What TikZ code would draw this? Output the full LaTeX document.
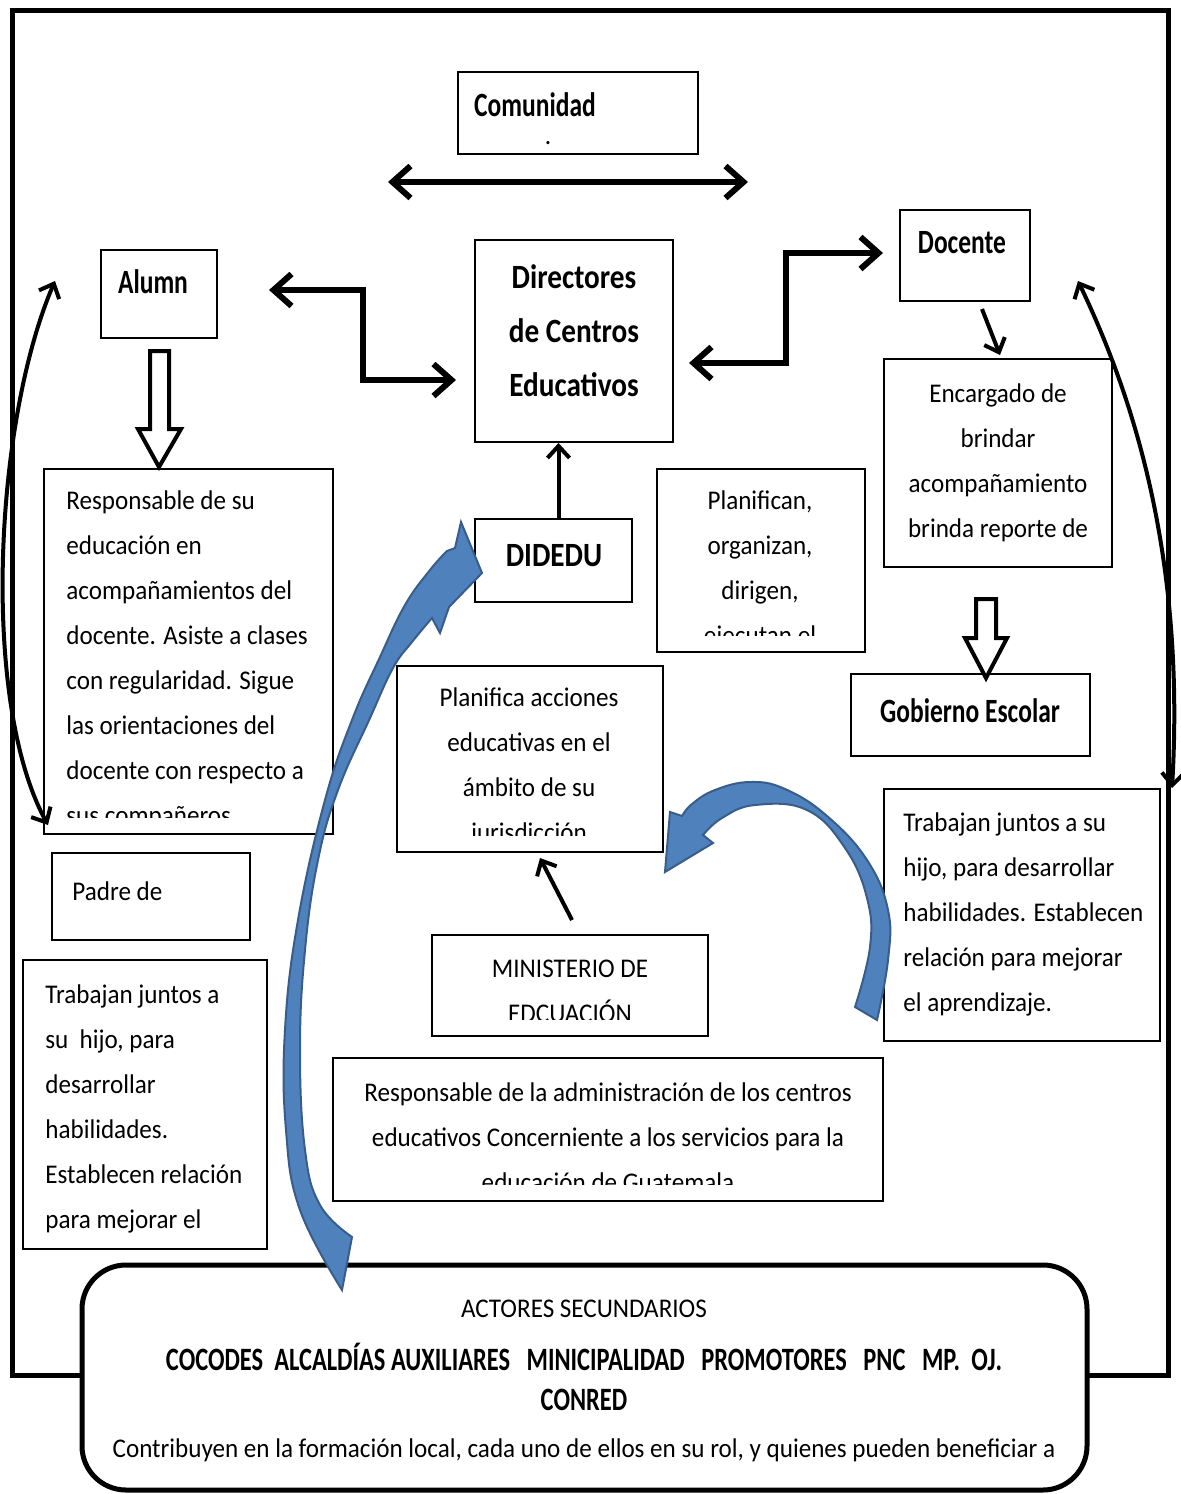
\documentclass[tikz,border=0pt]{standalone}
\usepackage{fontspec}
\setmainfont{Carlito}[FakeStretch=0.93]
\newfontfamily\headfamily{Carlito}[FakeStretch=0.75]
\newfontfamily\wideheadfamily{Carlito}[FakeStretch=0.86]
\usetikzlibrary{arrows.meta}
\definecolor{arrowblue}{RGB}{79,129,189}
\definecolor{arrowblueedge}{RGB}{56,93,138}
\newcommand*{\bodytextstyle}{\fontsize{13.5}{22.5}\selectfont\color{black}}
\newcommand*{\headtextstyle}{\headfamily\bfseries\fontsize{17}{27}\selectfont\color{black}}
\newcommand{\boxtext}[5]{%
   % frame node, text node name, position, options, text
   \begin{scope}
      \clip ([shift={(2,2)}]#1.north west) rectangle ([shift={(-2,-18)}]#1.south east);
      \node[inner sep=0pt, #4] (#2) at #3 {#5};
   \end{scope}
}
\tikzset{
    boxsize/.style 2 args={minimum width=#1*0.5pt, minimum height=#2*0.5pt},
    box/.style={draw=black, line width=1pt, fill=white, inner sep=0pt},
    dblarrow/.style={line width=3pt,
        {Straight Barb[length=9pt,width=16pt]}-{Straight Barb[length=9pt,width=16pt]}},
    onearrow/.style={line width=2pt, -{Straight Barb[length=6pt,width=11pt]}},
    curvearrow/.style={line width=2pt,
        {Straight Barb[length=6pt,width=11pt]}-{Straight Barb[length=6pt,width=11pt]}},
    hollow/.style={draw=black, line width=2pt, fill=white, line join=miter},
    blockblue/.style={fill=arrowblue, draw=arrowblueedge, line width=1pt},
    body/.style={font=\bodytextstyle},
    head/.style={font=\headtextstyle}
}

\begin{document}
\begin{tikzpicture}[x=0.5pt, y=-0.5pt]

    \useasboundingbox (0,0) rectangle (1181,1494);
    \fill[white] (0,0) rectangle (1181,1494);

    % outer frame
    \draw[line width=2.5pt] (12,10) rectangle (1168,1375);

    % boxes
    \node[box, boxsize={240}{82}]  (comunidad) at (578,113) {};
    \node[box, boxsize={116}{88}]  (alumn)     at (159,294) {};
    \node[box, boxsize={198}{202}] (dir)       at (574,341) {};
    \node[box, boxsize={130}{91}]  (doc)       at (965,255.5) {};
    \node[box, boxsize={157}{83}]  (dididu)    at (553.5,560.5) {};
    \node[box, boxsize={208}{183}] (planifican) at (761,560.5) {};
    \node[box, boxsize={228}{208}] (enc)       at (998,463) {};
    \node[box, boxsize={239}{82}]  (gob)       at (970.5,715) {};
    \node[box, boxsize={289}{365}] (resp)      at (188.5,651.5) {};
    \node[box, boxsize={198}{87}]  (padre)     at (151,896.5) {};
    \node[box, boxsize={244}{289}] (trabizq)   at (145,1104.5) {};
    \node[box, boxsize={266}{186}] (planifica) at (530,759) {};
    \node[box, boxsize={276}{101}] (minis)     at (570,985.5) {};
    \node[box, boxsize={276}{252}] (trabder)   at (1022,915) {};
    \node[box, boxsize={550}{143}] (admin)     at (608,1129.5) {};

    % texts
    \node[head, anchor=north, align=center, inner sep=0pt] (comunidadtxt) at (535,92)
        {Comunidad\\[-13pt]{\normalfont\bodytextstyle\hspace*{13pt}.}};
    \boxtext{alumn}{alumntxt}{(153,269)}{head, anchor=north}{Alumn}
    \boxtext{dir}{dirtxt}{(574,264)}{head, anchor=north, align=center, font=\wideheadfamily\bfseries\fontsize{17}{27}\selectfont}{Directores\\ de Centros\\ Educativos}
    \boxtext{doc}{doctxt}{(962,231)}{head, anchor=north}{Docente}
    \boxtext{dididu}{didedutxt}{(554,544)}{head, anchor=north, font=\wideheadfamily\bfseries\fontsize{17}{27}\selectfont}{DIDEDU}
    \boxtext{gob}{gobtxt}{(970,698)}{head, anchor=north}{Gobierno Escolar}
    \boxtext{planifican}{planificantxt}{(760,490)}{body, anchor=north, align=center}%
        {Planifican,\\ organizan,\\ dirigen,\\ ejecutan el}
    \boxtext{enc}{enctxt}{(998,383)}{body, anchor=north, align=center}%
        {Encargado de\\ brindar\\ acompañamiento\\ brinda reporte de}
    \boxtext{resp}{resptxt}{(66,490)}{body, anchor=north west, align=left}%
        {Responsable de su\\ educación en\\ acompañamientos del\\ docente. Asiste a clases\\
         con regularidad. Sigue\\ las orientaciones del\\ docente con respecto a\\ sus compañeros}
    \boxtext{padre}{padretxt}{(72,881)}{body, anchor=north west}{Padre de}
    \boxtext{trabizq}{trabizqtxt}{(45,984)}{body, anchor=north west, align=left}%
        {Trabajan juntos a\\ su\ \ hijo, para\\ desarrollar\\ habilidades.\\ Establecen relación\\ para mejorar el}
    \boxtext{planifica}{planificatxt}{(529,687)}{body, anchor=north, align=center}%
        {Planifica acciones\\ educativas en el\\ ámbito de su\\ jurisdicción}
    \boxtext{minis}{minitxt}{(570,960)}{body, anchor=north, align=center}{MINISTERIO DE\\ EDCUACIÓN}
    \boxtext{trabder}{trabdertxt}{(903,812)}{body, anchor=north west, align=left}%
        {Trabajan juntos a su\\ hijo, para desarrollar\\ habilidades. Establecen\\ relación para mejorar\\ el aprendizaje.}
    \boxtext{admin}{admintxt}{(608,1082)}{body, anchor=north, align=center}%
        {Responsable de la administración de los centros\\ educativos Concerniente a los servicios para la\\ educación de Guatemala}

    % black arrows
    \draw[dblarrow] ([shift={(-190,27)}]comunidad.south) -- ([shift={(170,27)}]comunidad.south);
    \draw[dblarrow, line join=miter] ([shift={(51,-4)}]alumn.east) -- ++(94,0) -- ++(0,90) -- ++(93,0);
    \draw[dblarrow, line join=miter] ([shift={(15,22)}]dir.east) -- ++(97,0) -- ++(0,-110) -- ++(97,0);
    \draw[onearrow] ([xshift=2.5pt]dididu.north) -- ([xshift=2.5pt]dididu.north |- dir.south);
    \draw[onearrow] ([shift={(17,7)}]doc.south) -- ([shift={(2,-3)}]enc.north);
    \draw[onearrow] ([shift={(2,-14)}]minis.north) -- ([shift={(10,5)}]planifica.south);

    % hollow arrows
    \draw[hollow] (alumn.south) ++(-9,12) -- ++(0,78) -- ++(-12,0) -- ++(21,38)
        -- ++(22,-38) -- ++(-12,0) -- ++(0,-78) -- cycle;
    \draw[hollow] (enc.south) ++(-22,31) -- ++(0,39) -- ++(-11,0) -- ++(21,40)
        -- ++(21,-40) -- ++(-11,0) -- ++(0,-39) -- cycle;

    % curved arrows
    \coordinate (alumnin) at (55,281);
    \coordinate (respin)  at (48,825);
    \coordinate (docin)   at (1078,281);
    \coordinate (trabin)  at (1172,788);
    \draw[curvearrow] (alumnin) .. controls (-5,420) and (-20,700) .. (respin);
    \draw[curvearrow] (docin) .. controls (1135,400) and (1185,560) .. (trabin);

    % secondary actors
    \node[box, line width=2.5pt, rounded corners=22pt, boxsize={1005}{225}] (actores) at (584.5,1377.5) {};
    \node[body, anchor=north, inner sep=0pt] (actorestitle) at (584,1300) {ACTORES SECUNDARIOS};
    \node[head, anchor=north, align=center, inner sep=0pt, font=\headfamily\bfseries\fontsize{16.3}{20}\selectfont] (actoreslist) at (584,1343)
        {COCODES\ \ ALCALDÍAS AUXILIARES\ \ \ MINICIPALIDAD\ \ \ PROMOTORES\ \ \ PNC\ \ \ MP.\ \ OJ.\\ CONRED};
    \node[body, anchor=north, inner sep=0pt] (actoresnote) at (584,1438)
        {Contribuyen en la formación local, cada uno de ellos en su rol, y quienes pueden beneficiar a};

    % blue arrows
    \filldraw[blockblue] plot[smooth, tension=0.7] coordinates {(342,1290) (300,1210) (286,1130)
            (285,1030) (298,920) (325,800) (352,720) (380,657) (405,605) (430,570) (447,551)}
        -- (455,548) -- (461,522) -- (482,573) -- (449,607) -- (440,633)
        -- plot[smooth, tension=0.7] coordinates {(432,618) (412,642) (393,668) (370,718)
            (338,790) (318,860) (305,950) (300,1050) (305,1150) (320,1205) (352,1237)}
        -- cycle;
    \filldraw[blockblue] plot[smooth, tension=0.7] coordinates {(877,1020) (888,960) (888,910)
            (867,860) (827,816) (785,789) (750,782) (715,790) (692,804) (682,816)}
        -- (670,812) -- (665,872) -- (713,843)
        -- plot[smooth, tension=0.7] coordinates {(703,835) (722,818) (755,805) (807,810)
            (845,848) (867,898) (870,947) (855,1007)}
        -- cycle;

\end{tikzpicture}
\end{document}
